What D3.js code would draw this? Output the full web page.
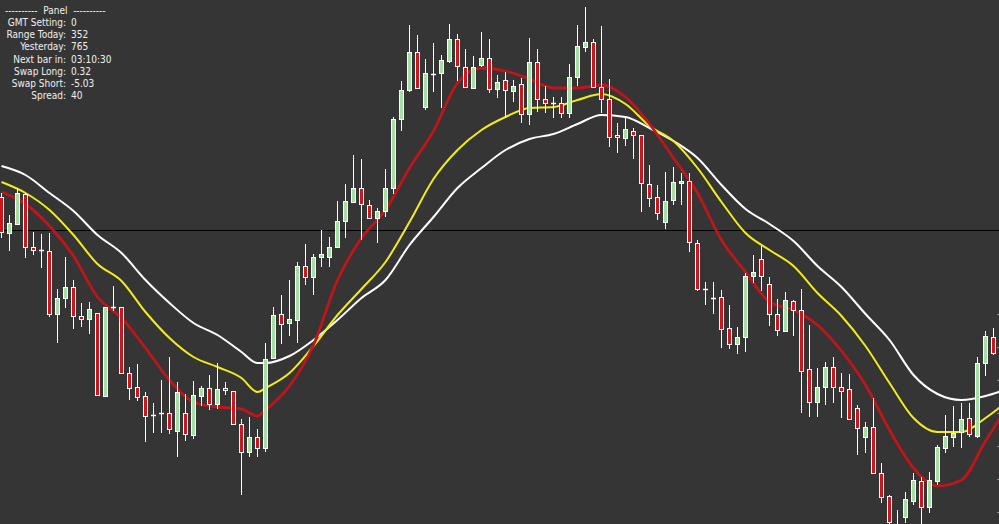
<!DOCTYPE html>
<html>
<head>
<meta charset="utf-8">
<script src="https://cdn.jsdelivr.net/npm/d3@7"></script>
<style>
  html, body { margin: 0; padding: 0; background: #353535; overflow: hidden; }
  svg { display: block; }
</style>
</head>
<body>
<div id="chart"></div>
<script>
// candle data, levels in points (bar index 0..124)
const highs = [807,785,812,807,768,766,767,711,743,720,697,698,687,693,714,693,633,636,608,597,
  620,643,618,606,619,614,625,637,618,609,581,583,571,657,693,705,720,738,756,746,
  770,763,799,816,845,841,800,792,831,883,919,975,965,941,957,945,976,966,951,944,
  968,961,925,928,920,922,962,951,914,903,903,936,975,993,961,974,921,877,882,872,
  865,835,815,828,833,827,827,760,718,718,710,695,673,727,745,754,723,701,708,700,
  711,675,632,638,643,627,626,595,578,602,537,505,490,508,527,523,528,555,585,594,
  597,597,643,669,672];
const opens = [803,767,776,806,753,750,749,686,702,713,684,681,687,604,693,693,627,613,604,585,
  587,587,569,587,565,604,612,596,612,609,576,548,563,552,642,686,677,680,734,723,
  743,743,753,779,798,812,795,782,789,812,881,910,948,893,926,927,939,961,933,912,
  935,942,911,920,909,916,886,938,901,897,897,887,923,953,958,913,901,865,862,869,
  865,816,803,778,800,817,819,757,711,702,703,672,656,663,724,741,716,686,669,699,
  690,631,598,613,633,613,611,592,563,573,527,504,468,483,499,519,493,519,552,563,
  568,582,564,637,663];
const closes = [768,777,807,753,750,750,686,702,713,684,681,691,605,693,693,627,612,603,584,585,
  587,571,608,566,605,612,596,611,610,576,548,563,552,641,685,676,681,734,723,743,
  746,753,779,799,812,796,782,789,812,881,910,948,912,927,926,940,961,934,913,933,
  942,911,918,910,914,886,938,901,897,897,887,923,954,958,913,901,863,863,871,865,
  817,802,787,799,818,819,758,711,711,702,671,656,663,724,728,724,686,670,700,690,
  629,598,613,633,613,609,581,572,573,527,503,478,474,501,520,493,520,553,564,567,
  581,566,637,664,647];
const lows = [762,749,775,742,745,732,683,657,692,671,673,666,604,603,689,626,600,599,558,567,
  567,566,543,559,561,594,590,591,605,575,505,543,543,548,641,656,664,657,715,705,
  733,733,753,762,798,760,781,757,783,806,869,908,911,890,908,892,937,919,912,911,
  933,907,902,882,898,877,875,888,887,882,882,882,914,948,912,887,853,847,854,841,
  788,793,780,771,795,795,748,709,695,686,652,651,646,648,717,709,674,664,668,664,
  587,583,583,595,597,582,580,545,547,526,497,472,462,477,495,476,487,515,547,553,
  552,563,562,624,645];

// moving averages, read at these bar indices
const maIndex = [0,3,6,9,12,15,18,21,24,27,30,32,33,36,39,42,45,48,51,54,
  57,60,63,66,69,72,75,78,81,84,87,90,93,96,99,102,105,108,111,114,
  117,120,123,125];
const maSlow = [834,825,807,789,765,747,720,697,677,665,648,637,637,644,660,680,702,720,755,783,
  812,832,850,861,866,876,885,883,872,859,842,815,791,776,759,734,713,686,660,625,
  606,600,604,609];
const maMid = [818,807,790,765,736,719,688,662,643,633,622,608,612,627,654,685,711,738,778,821,
  850,870,883,892,893,900,906,896,874,859,832,798,767,750,734,707,684,654,617,582,
  568,568,582,594];
const maFast = [808,796,774,744,703,682,652,620,598,593,591,584,590,614,655,720,762,790,832,869,
  917,932,929,921,912,912,915,903,876,842,807,760,728,698,690,675,649,615,570,532,
  514,520,559,584];

const refLevel = 770;
const scaleTicks = [488,521,554,587,620,653,686];

const panelTitle = "----------\u00a0\u00a0Panel\u00a0\u00a0----------";
const panelLabels = ["GMT Setting:", "Range Today:", "Yesterday:", "Next bar in:", "Swap Long:", "Swap Short:", "Spread:"];
const panelValues = ["0", "352", "765", "03:10:30", "0.32", "-5.03", "40"];

const width = 999;
const height = 524;

const svg = d3.select("#chart").append("svg")
  .attr("width", width)
  .attr("height", height);

svg.append("rect").attr("width", width).attr("height", height).attr("fill", "#353535");

const x = d3.scaleLinear().domain([0, 124]).range([1.5, 993.5]);
const y = d3.scaleLinear().domain([476, 1000]).range([height, 0]);

// reference line
svg.append("line")
  .attr("x1", 0).attr("x2", width)
  .attr("y1", Math.round(y(refLevel)) + 0.5).attr("y2", Math.round(y(refLevel)) + 0.5)
  .attr("stroke", "#000").attr("stroke-width", 1);

// averages
const ma = (vals) => d3.line()
  .x((d, i) => x(maIndex[i]))
  .y((d) => y(d))
  .curve(d3.curveMonotoneX)(vals);

svg.append("path").attr("d", ma(maSlow)).attr("fill", "none").attr("stroke", "#ffffff").attr("stroke-width", 2);
svg.append("path").attr("d", ma(maMid)).attr("fill", "none").attr("stroke", "#f2ec1c").attr("stroke-width", 2);
svg.append("path").attr("d", ma(maFast)).attr("fill", "none").attr("stroke", "#bf151b").attr("stroke-width", 2.8);

// candles
const bars = d3.range(highs.length).map((i) => ({
  i, h: highs[i], o: opens[i], c: closes[i], l: lows[i]
}));

const g = svg.append("g");

g.selectAll("line.wick").data(bars).enter().append("line")
  .attr("class", "wick")
  .attr("x1", (d) => x(d.i)).attr("x2", (d) => x(d.i))
  .attr("y1", (d) => y(d.h)).attr("y2", (d) => y(d.l))
  .attr("stroke", "#fff").attr("stroke-width", 1);

g.selectAll("rect.body").data(bars.filter((d) => d.o !== d.c)).enter().append("rect")
  .attr("class", "body")
  .attr("x", (d) => x(d.i) - 2)
  .attr("y", (d) => Math.round(y(Math.max(d.o, d.c))) + 0.5)
  .attr("width", 4)
  .attr("height", (d) => Math.max(1, Math.round(y(Math.min(d.o, d.c)) - y(Math.max(d.o, d.c)))))
  .attr("fill", (d) => d.c > d.o ? "#a6dea6" : "#d0141c")
  .attr("stroke", "#fff").attr("stroke-width", 1);

g.selectAll("line.doji").data(bars.filter((d) => d.o === d.c)).enter().append("line")
  .attr("class", "doji")
  .attr("x1", (d) => x(d.i) - 2.5).attr("x2", (d) => x(d.i) + 2.5)
  .attr("y1", (d) => Math.round(y(d.o)) + 0.5).attr("y2", (d) => Math.round(y(d.o)) + 0.5)
  .attr("stroke", "#fff").attr("stroke-width", 1.5);

// price scale marks on the right edge
svg.append("g")
  .attr("transform", `translate(${width},0)`)
  .call(d3.axisLeft(y).tickValues(scaleTicks).tickSize(2).tickFormat(""))
  .call((a) => a.select(".domain").remove())
  .selectAll("line").attr("stroke", "#8c8c8c");

// info panel
const panel = svg.append("g")
  .attr("font-family", "DejaVu Sans Condensed, DejaVu Sans, sans-serif")
  .attr("font-stretch", "condensed")
  .attr("font-size", 10)
  .attr("fill", "#f0f0f0");

panel.append("text")
  .attr("x", 5).attr("y", 10.5)
  .attr("dominant-baseline", "central")
  .text(panelTitle);

panel.selectAll("text.lab").data(panelLabels).enter().append("text")
  .attr("class", "lab")
  .attr("x", 66).attr("y", (d, i) => 22.5 + i * 12.2)
  .attr("text-anchor", "end")
  .attr("dominant-baseline", "central")
  .text((d) => d);

panel.selectAll("text.val").data(panelValues).enter().append("text")
  .attr("class", "val")
  .attr("x", 71).attr("y", (d, i) => 22.5 + i * 12.2)
  .attr("dominant-baseline", "central")
  .text((d) => d);
</script>
</body>
</html>
